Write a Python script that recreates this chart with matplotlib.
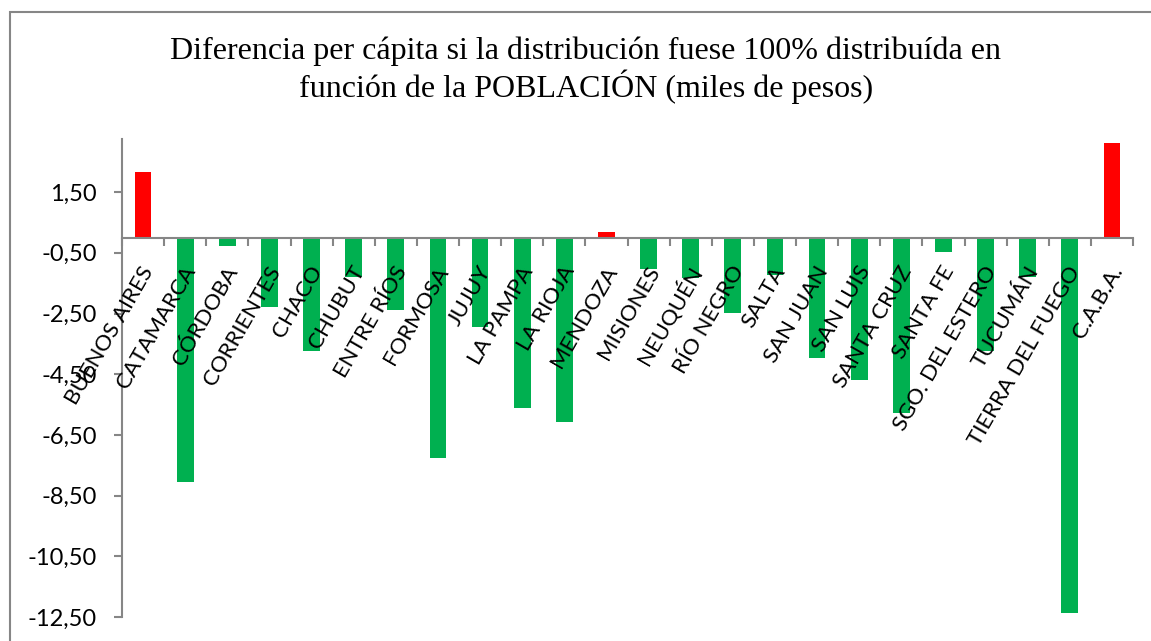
"""Diferencia per cápita por provincia (distribución 100% por población)."""
import matplotlib

matplotlib.use("Agg")
import matplotlib.pyplot as plt
from matplotlib.patches import Rectangle
from matplotlib.transforms import offset_copy

provincias = [
    "BUENOS AIRES", "CATAMARCA", "CÓRDOBA", "CORRIENTES", "CHACO", "CHUBUT",
    "ENTRE RÍOS", "FORMOSA", "JUJUY", "LA PAMPA", "LA RIOJA", "MENDOZA",
    "MISIONES", "NEUQUÉN", "RÍO NEGRO", "SALTA", "SAN JUAN", "SAN LUIS",
    "SANTA CRUZ", "SANTA FE", "SGO. DEL ESTERO", "TUCUMÁN", "TIERRA DEL FUEGO",
    "C.A.B.A.",
]
diferencia = [
    2.16, -8.05, -0.26, -2.27, -3.75, -1.29,
    -2.40, -7.27, -2.95, -5.60, -6.07, 0.18,
    -1.03, -1.32, -2.48, -1.23, -3.97, -4.68,
    -5.79, -0.48, -3.74, -1.30, -12.38,
    3.12,
]
yticks = [1.5, -0.5, -2.5, -4.5, -6.5, -8.5, -10.5, -12.5]
ytick_labels = ["1,50", "-0,50", "-2,50", "-4,50", "-6,50", "-8,50", "-10,50", "-12,50"]

GREEN = "#00B050"
RED = "#FF0000"
GREY = "#868686"
SANS = ["Lato", "DejaVu Sans"]

W, H = 1151, 641
fig = plt.figure(figsize=(W / 100, H / 100), dpi=100)
ax = fig.add_axes([122 / W, 1 - 617 / H, (1133 - 122) / W, (617 - 139) / H])

x = list(range(len(provincias)))
colors = [RED if v > 0 else GREEN for v in diferencia]
ax.bar(x, diferencia, width=0.4, color=colors, zorder=3)

ax.set_xlim(-0.5, len(provincias) - 0.5)
ax.set_ylim(-12.5, 3.25)

for side in ("top", "right"):
    ax.spines[side].set_visible(False)
for side in ("left", "bottom"):
    ax.spines[side].set_color(GREY)
    ax.spines[side].set_linewidth(1.5)
ax.spines["bottom"].set_position(("data", 0))
ax.spines["bottom"].set_zorder(4)

ax.set_yticks(yticks)
ax.set_yticklabels(ytick_labels, fontsize=17, family=SANS)
ax.tick_params(axis="y", length=6, width=1.5, color=GREY, pad=12)

ax.set_xticks([i - 0.5 for i in range(len(provincias) + 1)])
ax.set_xticklabels([])
ax.tick_params(axis="x", length=6, width=1.5, color=GREY, direction="out")

lab_tr = offset_copy(ax.transData, fig=fig, x=6, y=-30, units="dots")
for i, name in enumerate(provincias):
    ax.text(i, 0, name, transform=lab_tr, rotation=60, rotation_mode="anchor",
            ha="right", va="center", fontsize=16, family=SANS)

fig.text(586 / W, 1 - 36 / H,
         "Diferencia per cápita si la distribución fuese 100% distribuída en\n"
         "función de la POBLACIÓN (miles de pesos)",
         ha="center", va="top", fontsize=23, family="Liberation Serif",
         linespacing=1.15)

fig.add_artist(Rectangle((10 / W, -0.1), 1.2, 1.1 - 12 / H, transform=fig.transFigure,
                         fill=False, edgecolor=GREY, linewidth=1.5))

fig.savefig("out.png", dpi=100)
plt.close(fig)
